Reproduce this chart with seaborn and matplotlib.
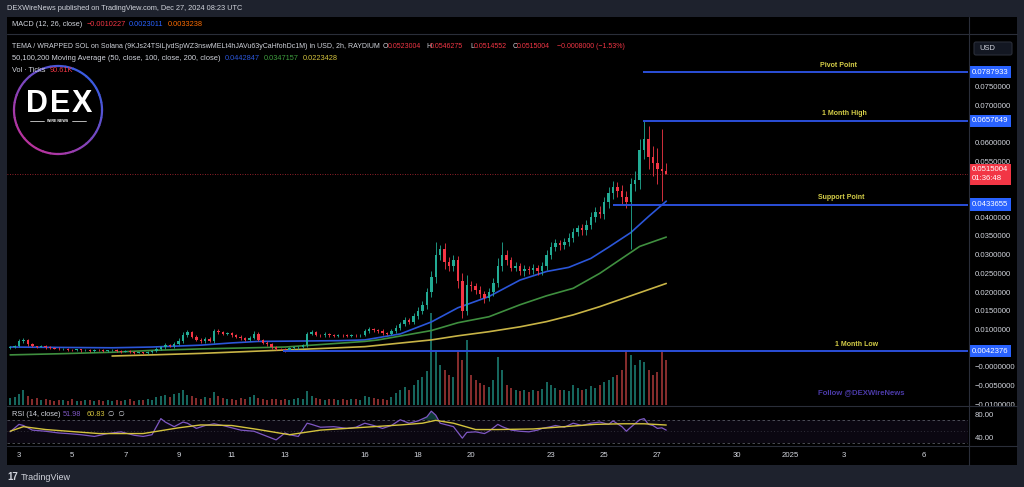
import numpy as np
import pandas as pd
import matplotlib
matplotlib.use("Agg")
import matplotlib.pyplot as plt
import matplotlib.transforms as mtransforms
from matplotlib.patches import Rectangle, Arc, FancyBboxPatch
import seaborn as sns

# ---------------- data (prices in units of 1e-4 USD) ----------------
first_open_e4 = 50
close_e4 = [52, 55, 68, 72, 60, 55, 54, 56, 52, 50,
            49, 47, 48, 46, 45, 47, 44, 45, 43, 46,
            44, 42, 44, 45, 42, 41, 43, 40, 38, 39,
            37, 40, 42, 48, 52, 58, 55, 62, 70, 85,
            92, 80, 72, 68, 75, 70, 95, 93, 88, 90,
            84, 80, 76, 72, 78, 88, 72, 65, 60, 52,
            48, 47, 45, 50, 52, 54, 58, 88, 92, 86,
            84, 88, 85, 83, 86, 84, 82, 85, 84, 86,
            95, 100, 98, 96, 90, 88, 95, 105, 115, 125,
            120, 135, 150, 165, 200, 240, 300, 315, 280, 270,
            285, 230, 150, 220, 215, 205, 195, 185, 200, 225,
            270, 300, 285, 265, 270, 255, 262, 258, 265, 255,
            270, 300, 320, 330, 325, 335, 345, 360, 370, 365,
            380, 400, 415, 410, 440, 465, 480, 470, 455, 440,
            490, 500, 580, 610, 560, 545, 530, 523, 515]
upper_wick_e4 = [3, 4, 6, 4, 3, 3, 2, 3, 2, 3,
                 2, 3, 2, 2, 3, 2, 2, 3, 2, 2,
                 2, 3, 2, 2, 3, 2, 2, 3, 2, 2,
                 2, 3, 3, 4, 4, 5, 4, 5, 6, 8,
                 6, 5, 4, 4, 5, 4, 6, 5, 4, 4,
                 4, 3, 4, 3, 4, 8, 4, 3, 3, 3,
                 3, 3, 3, 3, 3, 3, 4, 6, 6, 4,
                 3, 4, 3, 4, 3, 3, 3, 4, 3, 3,
                 5, 6, 4, 4, 4, 3, 5, 6, 6, 8,
                 6, 8, 10, 10, 12, 15, 33, 12, 15, 14,
                 15, 12, 20, 25, 10, 8, 10, 8, 10, 12,
                 20, 35, 12, 10, 10, 8, 10, 8, 10, 8,
                 10, 12, 14, 12, 10, 10, 12, 12, 10, 12,
                 12, 14, 12, 15, 15, 16, 18, 15, 15, 15,
                 15, 25, 30, 47, 35, 30, 40, 105, 23]
lower_wick_e4 = [3, 2, 3, 4, 3, 2, 3, 2, 3, 2,
                 2, 3, 2, 3, 2, 2, 3, 2, 2, 3,
                 2, 2, 3, 2, 2, 3, 2, 2, 3, 2,
                 3, 2, 2, 3, 3, 4, 3, 4, 4, 5,
                 5, 4, 4, 3, 4, 4, 5, 4, 4, 3,
                 4, 3, 4, 3, 3, 4, 4, 3, 3, 3,
                 3, 3, 5, 3, 3, 3, 3, 4, 4, 3,
                 3, 3, 4, 3, 3, 3, 3, 3, 3, 3,
                 4, 4, 4, 5, 5, 4, 4, 4, 6, 6,
                 6, 6, 8, 8, 10, 12, 15, 14, 18, 15,
                 15, 20, 20, 12, 12, 10, 10, 13, 10, 10,
                 12, 14, 12, 10, 10, 10, 12, 10, 10, 10,
                 10, 12, 12, 10, 12, 10, 12, 12, 10, 12,
                 12, 12, 14, 12, 14, 15, 15, 15, 20, 15,
                 126, 20, 25, 25, 30, 35, 40, 80, 0.5]
volume_k = [14, 16, 22, 30, 18, 12, 14, 10, 12, 9,
            8, 10, 9, 8, 12, 7, 8, 10, 9, 8,
            10, 8, 9, 7, 10, 8, 9, 11, 8, 10,
            9, 12, 10, 16, 18, 20, 15, 22, 24, 30,
            20, 18, 14, 12, 16, 14, 26, 18, 14, 12,
            12, 10, 14, 12, 16, 20, 14, 12, 10, 12,
            11, 9, 12, 10, 11, 14, 12, 28, 18, 14,
            12, 10, 12, 11, 10, 12, 10, 11, 12, 10,
            18, 16, 14, 12, 12, 10, 16, 24, 30, 36,
            30, 40, 50, 56, 68, 184, 110, 80, 70, 60,
            55, 110, 90, 130, 60, 50, 44, 40, 36, 50,
            96, 70, 40, 34, 30, 28, 30, 25, 30, 28,
            32, 46, 40, 34, 30, 30, 28, 40, 34, 30,
            32, 38, 34, 40, 46, 50, 56, 60, 70, 110,
            100, 80, 90, 85, 70, 60, 65, 110, 90.61]
first_candle_day = 2.6667          # Dec 2, 16:00 (days of December)
candles_per_day = 6                # 4h candles

# moving averages read at candle indices (1e-4 USD)
ma50_idx = [0, 11, 23, 32, 43, 50, 56, 65, 74, 80, 83, 88, 95, 101, 108, 115, 121, 126, 131, 135, 140, 144, 148]
ma50_val = [53, 52, 51, 53, 58, 64, 68, 69, 70, 72, 78, 88, 120, 158, 188, 232, 255, 266, 290, 320, 359, 402, 443]
ma100_idx = [0, 11, 23, 32, 43, 62, 80, 83, 95, 101, 108, 115, 121, 127, 133, 138, 142, 148]
ma100_val = [32, 35, 39, 44, 48, 53, 68, 72, 97, 118, 134, 166, 190, 210, 250, 290, 322, 347]
ma200_idx = [23, 32, 43, 62, 80, 95, 101, 108, 115, 121, 127, 133, 140, 148]
ma200_val = [29, 32, 36, 45, 54, 72, 83, 94, 107, 121, 139, 161, 190, 223]

# RSI(14) and its moving average, read at candle indices
rsi_idx = [0, 2, 3, 5, 8, 11, 13, 16, 19, 22, 25, 28, 30, 32, 34, 35, 37, 39, 40, 42, 44, 46, 48, 50,
           52, 55, 57, 60, 62, 63, 65, 67, 68, 70, 73, 76, 78, 80, 82, 84, 86, 88, 90, 92, 94, 95,
           96, 97, 98, 100, 101, 102, 103, 105, 107, 108, 110, 111, 113, 115, 117, 119, 120, 122,
           123, 125, 127, 129, 131, 133, 135, 136, 138, 139, 140, 142, 143, 144, 145, 146, 147, 148]
rsi_val = [49, 62, 60, 52, 50, 47, 46, 44, 41, 46, 49, 43, 41, 44, 72, 66, 58, 66, 64, 55, 60, 63, 60, 56,
           52, 50, 44, 35, 47, 44, 41, 64, 62, 57, 58, 55, 57, 64, 60, 55, 60, 70, 64, 68, 75, 85,
           78, 64, 62, 58, 48, 38, 48, 49, 46, 50, 62, 58, 52, 50, 49, 52, 55, 58,
           60, 57, 64, 60, 64, 66, 62, 68, 58, 50, 57, 70, 72, 62, 60, 55, 56, 51.98]
rsima_idx = [0, 3, 8, 20, 30, 38, 43, 50, 56, 63, 70, 80, 88, 93, 96, 100, 105, 110, 118, 125, 132, 138, 143, 148]
rsima_val = [50, 58, 53, 46, 46, 56, 61, 60, 53, 44, 52, 57, 61, 64, 69, 64, 53, 53, 54, 58, 62, 63, 63, 60.83]

# drawn levels
level_names = ["Pivot Point", "1 Month High", "Support Point", "1 Month Low"]
level_values = [0.0787933, 0.0657649, 0.0433655, 0.0042376]
level_start_day = [26.46, 26.46, 25.33, 12.92]
last_price = 0.0515004

# time axis
tick_days = [3, 5, 7, 9, 11, 13, 16, 18, 20, 23, 25, 27, 30, 32, 34, 37]
tick_labels = ["3", "5", "7", "9", "11", "13", "16", "18", "20", "23", "25", "27", "30", "2025", "3", "6"]

# ---------------- derived frames ----------------
n = len(close_e4)
c = np.array(close_e4, float) * 1e-4
o = np.array([first_open_e4] + close_e4[:-1], float) * 1e-4
hi = np.maximum(o, c) + np.array(upper_wick_e4) * 1e-4
lo = np.minimum(o, c) - np.array(lower_wick_e4) * 1e-4
t = first_candle_day + np.arange(n) / candles_per_day
up = c >= o
df = pd.DataFrame(dict(t=t, o=o, c=c, hi=hi, lo=lo, vol=volume_k, up=up))

def idx_to_day(idx):
    return first_candle_day + np.asarray(idx, float) / candles_per_day

ma_frames = [
    (pd.DataFrame(dict(t=idx_to_day(ma50_idx), v=np.array(ma50_val) * 1e-4)), "#2b56d9"),
    (pd.DataFrame(dict(t=idx_to_day(ma100_idx), v=np.array(ma100_val) * 1e-4)), "#3f8f3f"),
    (pd.DataFrame(dict(t=idx_to_day(ma200_idx), v=np.array(ma200_val) * 1e-4)), "#c8b446"),
]
rsi_df = pd.DataFrame(dict(t=idx_to_day(rsi_idx), v=rsi_val))
rsima_df = pd.DataFrame(dict(t=idx_to_day(rsima_idx), v=rsima_val))

# ---------------- style ----------------
sns.set_theme(style="dark")
plt.rcParams["font.family"] = ["Liberation Sans", "DejaVu Sans"]
TXT = "#d1d4dc"
GRID = "#2a2e39"
UPC, DNC = "#22ab94", "#f23645"
BLUE = "#2962ff"

W, H = 1024, 487
def rect(x0, y0, x1, y1):
    return [x0 / W, 1 - y1 / H, (x1 - x0) / W, (y1 - y0) / H]

fig = plt.figure(figsize=(10.24, 4.87), dpi=100, facecolor="#1e222d")

bg = fig.add_axes([0, 0, 1, 1], zorder=0)
bg.set_xlim(0, W); bg.set_ylim(H, 0); bg.axis("off")
bg.add_patch(Rectangle((7, 17), 1010, 448, fc="black", ec="none"))

XL = (2.549, 38.677)
YL = (-0.0102, 0.0890)

# volume pane (behind the price pane)
axv = fig.add_axes(rect(7, 34, 968, 405), zorder=1)
axv.set_facecolor("black")
vcol = np.where(df["up"], "#16665d", "#842c2c")
axv.bar(df["t"], df["vol"], width=0.45 / candles_per_day, color=vcol, linewidth=0)
axv.set_xlim(*XL); axv.set_ylim(0, 740)
axv.axis("off")

# price pane
ax = fig.add_axes(rect(7, 34, 968, 405), zorder=2)
ax.patch.set_alpha(0)
for s in ax.spines.values():
    s.set_visible(False)
ax.grid(False)
ccol = np.where(df["up"], UPC, DNC)
ax.vlines(df["t"], df["lo"], df["hi"], colors=ccol, lw=0.6, zorder=3)
body = np.maximum(np.abs(df["c"] - df["o"]), 0.00012)
ax.bar(df["t"], body, bottom=np.minimum(df["o"], df["c"]), width=0.55 / candles_per_day,
       color=ccol, linewidth=0, zorder=4)
for fr, col in ma_frames:
    sns.lineplot(data=fr, x="t", y="v", ax=ax, color=col, lw=1.2, legend=False, zorder=2)
ax.axhline(last_price, color=DNC, lw=0.6, ls=(0, (1, 2)), alpha=0.8, zorder=1)
for val, sd in zip(level_values, level_start_day):
    ax.hlines(val, sd, XL[1], color="#2b4fd8", lw=1.4, zorder=5)
ax.set_xlim(*XL); ax.set_ylim(*YL)
ax.set_xlabel(""); ax.set_ylabel("")
ax.set_xticks([])
yt = [0.075, 0.07, 0.06, 0.055, 0.04, 0.035, 0.03, 0.025, 0.02, 0.015, 0.01, 0.0, -0.005, -0.01]
ylab = ["0.0750000", "0.0700000", "0.0600000", "0.0550000", "0.0400000", "0.0350000", "0.0300000",
        "0.0250000", "0.0200000", "0.0150000", "0.0100000", "\u22120.0000000", "\u22120.0050000",
        "\u22120.0100000"]
ax.set_yticks(yt, ylab)
ax.yaxis.tick_right()
ax.tick_params(axis="y", length=0, pad=5, labelsize=5.6, labelcolor=TXT)

bt = mtransforms.blended_transform_factory(ax.transAxes, ax.transData)
for val in level_values:
    ax.text(1 + 4 / 961, val, f"{val:.7f}", transform=bt, ha="left", va="center", fontsize=5.6,
            color="white", clip_on=False, zorder=10,
            bbox=dict(boxstyle="square,pad=0.35", fc=BLUE, ec="none"))
ax.text(1 + 4 / 961, last_price, f"{last_price:.7f}\n01:36:48", transform=bt, ha="left", va="center",
        fontsize=5.6, color="white", clip_on=False, zorder=10, linespacing=1.3,
        bbox=dict(boxstyle="square,pad=0.35", fc=DNC, ec="none"))

# overlay in pixel coordinates
ov = fig.add_axes([0, 0, 1, 1], zorder=5)
ov.set_xlim(0, W); ov.set_ylim(H, 0); ov.axis("off"); ov.patch.set_alpha(0)
for name, val, lx in zip(level_names, level_values, [838, 844, 841, 857]):
    y_px = H - ax.transData.transform((XL[0], val))[1]
    ov.text(lx, y_px - 7, name, ha="center", va="center", fontsize=5.0, color="#d6cf48",
            fontweight="bold")

# RSI pane
axr = fig.add_axes(rect(7, 407, 968, 445), zorder=2)
axr.set_facecolor("black")
for s in axr.spines.values():
    s.set_visible(False)
axr.axhspan(30, 70, color="#7e57c2", alpha=0.09, lw=0)
for lvl, ls, a in [(70, (0, (3, 3)), 0.7), (50, (0, (1, 3)), 0.45), (30, (0, (3, 3)), 0.7)]:
    axr.axhline(lvl, color="#787b86", lw=0.6, ls=ls, alpha=a)
rv = np.array(rsi_val, float)
axr.fill_between(rsi_df["t"], rv, 70, where=rv > 70, interpolate=True, color="#26a69a", alpha=0.35, lw=0)
sns.lineplot(data=rsi_df, x="t", y="v", ax=axr, color="#7e57c2", lw=0.9, legend=False)
sns.lineplot(data=rsima_df, x="t", y="v", ax=axr, color="#d4c33e", lw=1.0, legend=False)
axr.set_xlim(*XL); axr.set_ylim(26.1, 92.2)
axr.set_xlabel(""); axr.set_ylabel("")
axr.set_yticks([80, 40], ["80.00", "40.00"])
axr.yaxis.tick_right()
axr.tick_params(axis="y", length=0, pad=5, labelsize=5.6, labelcolor=TXT)
axr.set_xticks(tick_days, tick_labels)
axr.tick_params(axis="x", length=0, pad=5, labelsize=5.6, labelcolor=TXT)
axr.grid(False)

# separators
for y in [33.5, 406, 446]:
    ov.plot([7, 1017], [y, y], color=GRID, lw=0.8)
ov.plot([968.5, 968.5], [17, 465], color=GRID, lw=0.8)

# header / legends
ov.text(7, 9, "DEXWireNews published on TradingView.com, Dec 27, 2024 08:23 UTC", fontsize=5.3,
        color=TXT, va="center", ha="left")
def seg(x, y, s, col=TXT, fs=5.3, **kw):
    ov.text(x, y, s, fontsize=fs, color=col, va="center", ha="left", **kw)
seg(12, 25, "MACD (12, 26, close)")
seg(87, 25, "\u22120.0010227", DNC)
seg(129, 25, "0.0023011", BLUE)
seg(168, 25, "0.0033238", "#ff6d00")
seg(12, 46, "TEMA / WRAPPED SOL on Solana (9KJs24TSiLjvdSpWZ3nswMELt4hJAVu63yCaHfohDc1M) in USD, 2h, RAYDIUM",
    fs=5.05)
for x, lab, v in [(383, "O", "0.0523004"), (426, "H", "0.0546275"), (470, "L", "0.0514552"), (513, "C", "0.0515004")]:
    seg(x, 46, lab, fs=5.05)
    seg(x + (4.0 if lab != "O" else 4.8), 46, v, DNC, fs=5.05)
seg(557, 46, "\u22120.0008000 (\u22121.53%)", DNC, fs=5.05)
seg(12, 58, "50,100,200 Moving Average (50, close, 100, close, 200, close)", fs=5.45)
seg(225, 58, "0.0442847", "#2b56d9")
seg(264, 58, "0.0347157", "#3f9f3f")
seg(303, 58, "0.0223428", "#d4c33e")
seg(12, 70, "Vol \u00b7 Ticks")
seg(50, 70, "90.61K", DNC)
seg(12, 415, "RSI (14, close)")
seg(63, 415, "51.98", "#7e57c2")
seg(87, 415, "60.83", "#d4c33e")
seg(108, 415, "\u2205  \u2205")

# USD box
ov.add_patch(FancyBboxPatch((974, 42), 38, 13, boxstyle="round,pad=0,rounding_size=2",
                            fc="#131722", ec=GRID, lw=0.8))
ov.text(979, 48.5, "USD", fontsize=5.4, color=TXT, va="center", ha="left")

# watermark logo
cx, cy, r = 58, 110, 44
nseg = 36
for k in range(nseg):
    a0 = 360 * k / nseg
    f = (np.cos(np.deg2rad(a0 - 45)) + 1) / 2
    col = (0.23 * f + 0.72 * (1 - f), 0.36 * f + 0.20 * (1 - f), 0.88 * f + 0.62 * (1 - f))
    ov.add_patch(Arc((cx, cy), 2 * r, 2 * r, theta1=-a0 - 360 / nseg - 0.5, theta2=-a0 + 0.5,
                     color=col, lw=1.6))
for lx, ch in zip([37, 60, 82], "DEX"):
    ov.text(lx, 104, ch, fontsize=22, color="white", fontweight="heavy", ha="center", va="center")
ov.text(cx, 121, "WIRE NEWS", fontsize=2.6, color="white", ha="center", va="center", fontweight="bold")
ov.plot([30, 44], [121, 121], color="white", lw=0.5)
ov.plot([72, 86], [121, 121], color="white", lw=0.5)

ov.text(861, 393, "Follow @DEXWireNews", fontsize=5.6, color="#4b3aa8", ha="center", va="center",
        fontweight="bold")

# footer
ov.text(7, 477, "17", fontsize=7, color=TXT, fontweight="heavy", va="center", ha="left")
ov.text(21, 477, "TradingView", fontsize=6.5, color=TXT, va="center", ha="left")

fig.savefig("out.png", dpi=100, facecolor=fig.get_facecolor())
